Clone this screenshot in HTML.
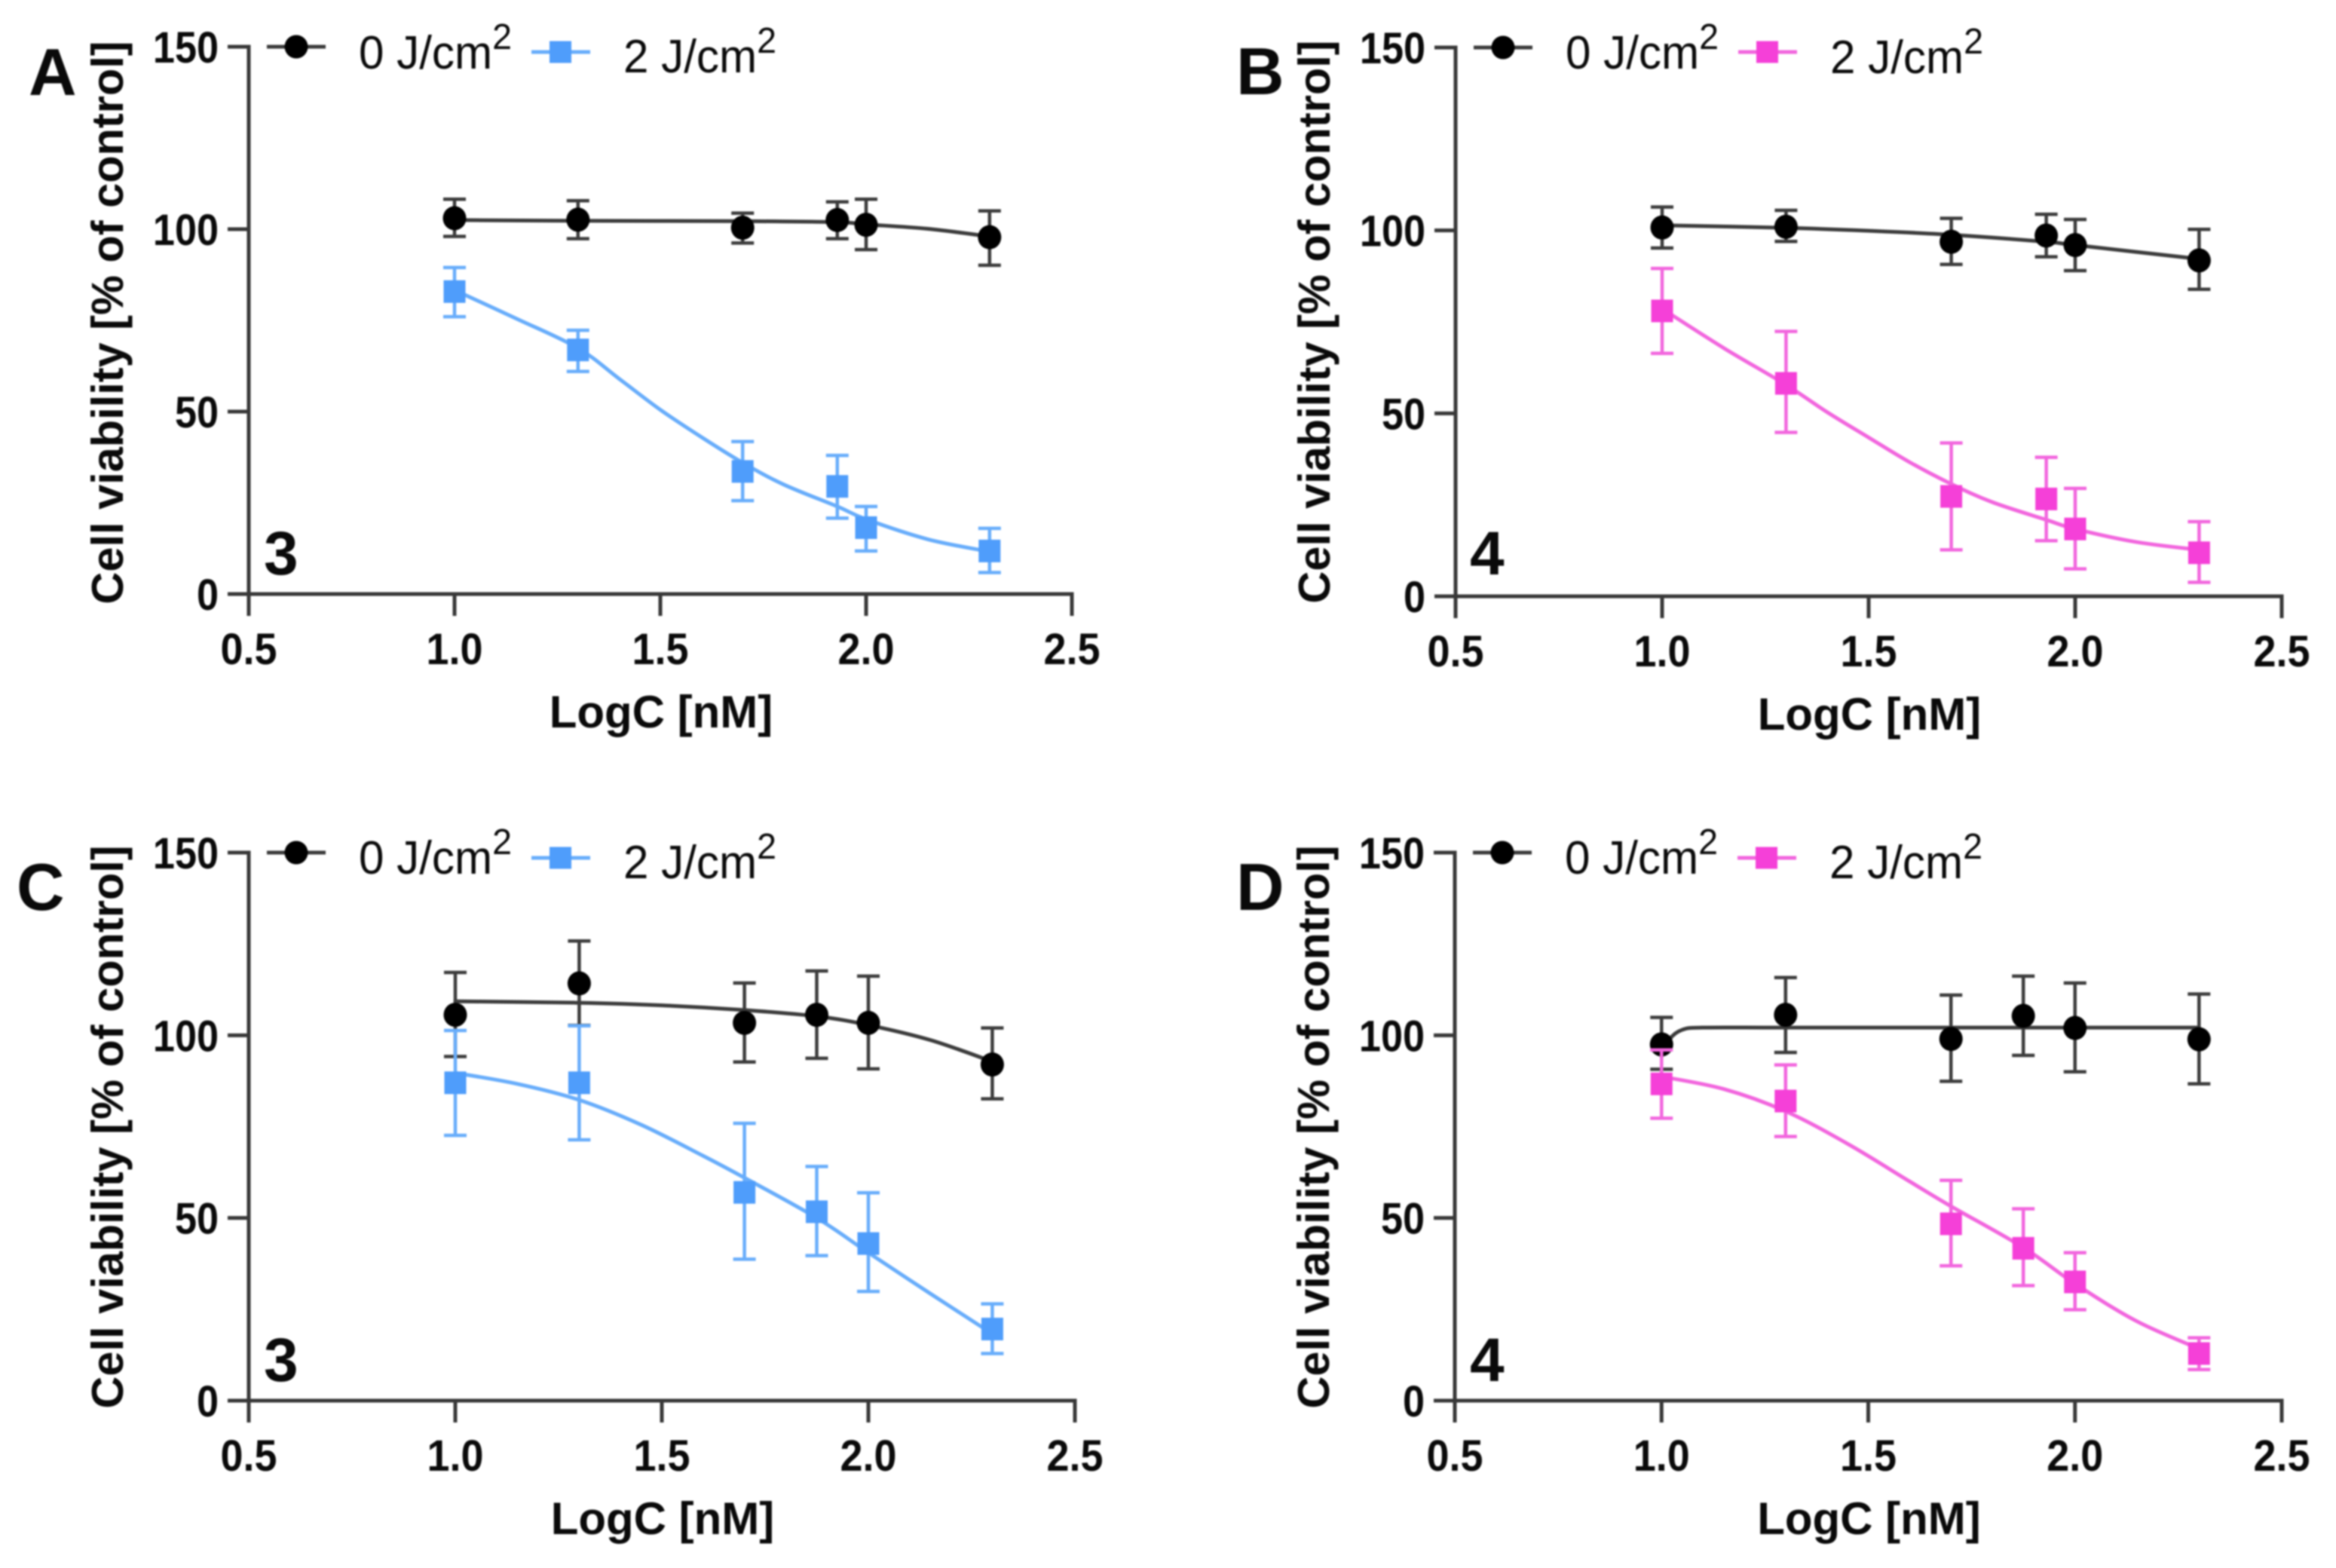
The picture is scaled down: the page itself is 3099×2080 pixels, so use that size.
<!DOCTYPE html>
<html lang="en">
<head>
<meta charset="utf-8">
<title>Cell viability dose-response panels</title>
<style>
html,body{margin:0;padding:0;background:#fff;width:3099px;height:2080px;overflow:hidden}
svg{display:block;filter:blur(1px)}
text{font-family:"Liberation Sans",Arial,sans-serif;fill:#0a0a0a}
</style>
</head>
<body>
<svg id="figure" xmlns="http://www.w3.org/2000/svg" width="3099" height="2080" viewBox="0 0 3099 2080">
<rect width="3099" height="2080" fill="#fff"></rect>
</svg>
<script>
// Axis ticks
const xTickValues = [0.5, 1.0, 1.5, 2.0, 2.5];
const xTickLabels = ['0.5', '1.0', '1.5', '2.0', '2.5'];
const yTickValues = [0, 50, 100, 150];
const yTickLabels = ['0', '50', '100', '150'];

// Panel A (compound 3)
const concA = [1.0, 1.3, 1.7, 1.93, 2.0, 2.3];
const darkA = [103, 102.6, 100.4, 102.5, 101.2, 97.8];
const darkTopA = [108.2, 107.8, 104.4, 107.5, 108.2, 105];
const darkLowA = [98, 97.4, 96.2, 97.4, 94.4, 90.1];
const lightA = [82.9, 66.9, 33.6, 29.5, 18.2, 11.8];
const lightTopA = [89.5, 72.3, 41.8, 38, 24, 18];
const lightLowA = [76, 61, 25.6, 20.8, 11.8, 5.9];
const darkFitXA = [1.0, 1.3, 1.7, 1.93, 2.0, 2.15, 2.3];
const darkFitYA = [102.5, 102.3, 102.2, 101.9, 101.3, 100.1, 98];
const lightFitXA = [1.0, 1.15, 1.3, 1.4, 1.5, 1.6, 1.7, 1.8, 1.93, 2.0, 2.15, 2.3];
const lightFitYA = [83.3, 75.5, 67.4, 59, 50.5, 43, 36, 30, 24, 20.5, 15, 11.6];

// Panel B (compound 4)
const concB = [1.0, 1.3, 1.7, 1.93, 2.0, 2.3];
const darkB = [100.8, 101, 96.9, 98.6, 96, 91.8];
const darkTopB = [106.4, 105.5, 103.3, 104.4, 103, 100.3];
const darkLowB = [95.2, 97, 90.7, 92.8, 89, 83.9];
const lightB = [78, 58.2, 27.3, 26.6, 18.4, 11.9];
const lightTopB = [89.6, 72.4, 41.9, 38, 29.5, 20.4];
const lightLowB = [66.4, 44.8, 12.7, 15.2, 7.5, 3.8];
const darkFitXB = [1.0, 1.3, 1.5, 1.7, 1.93, 2.0, 2.3];
const darkFitYB = [101.4, 100.7, 99.9, 98.8, 96.9, 96, 92.2];
const lightFitXB = [1.0, 1.15, 1.3, 1.4, 1.5, 1.6, 1.7, 1.8, 1.93, 2.0, 2.15, 2.3];
const lightFitYB = [78.6, 67.8, 57.8, 50.3, 43.4, 36.6, 30.7, 25.7, 20.9, 18.4, 14.8, 12.7];

// Panel C (compound 3)
const concC = [1.0, 1.3, 1.7, 1.875, 2.0, 2.3];
const darkC = [105.6, 114.2, 103.4, 105.6, 103.4, 92];
const darkTopC = [117.2, 125.8, 114.3, 117.6, 116.2, 102];
const darkLowC = [94.2, 102.7, 92.7, 93.7, 90.8, 82.6];
const lightC = [87, 87, 57, 51.7, 43, 19.6];
const lightTopC = [101.3, 102.6, 75.9, 64.1, 56.9, 26.5];
const lightLowC = [72.6, 71.4, 38.7, 39.7, 29.9, 12.9];
const darkFitXC = [1.0, 1.3, 1.5, 1.7, 1.875, 2.0, 2.15, 2.3];
const darkFitYC = [109.3, 108.9, 108.2, 106.9, 105.2, 102.8, 98.7, 92.8];
const lightFitXC = [1.0, 1.15, 1.3, 1.45, 1.6, 1.7, 1.875, 2.0, 2.15, 2.3];
const lightFitYC = [89.7, 86.7, 82.3, 75.5, 67, 61, 50, 40.5, 29.3, 18.3];

// Panel D (compound 4)
const concD = [1.0, 1.3, 1.7, 1.875, 2.0, 2.3];
const darkD = [97.5, 105.6, 99, 105.3, 102, 98.9];
const darkTopD = [104.9, 115.8, 111, 116.2, 114.3, 111.3];
const darkLowD = [90.7, 95.3, 87.4, 94.5, 90, 86.7];
const lightD = [86.7, 82, 48.4, 41.7, 32.5, 12.9];
const lightTopD = [96, 91.9, 60.3, 52.5, 40.5, 17.2];
const lightLowD = [77.3, 72.3, 36.9, 31.5, 24.9, 8.5];
const darkFitXD = [1.0, 1.02, 1.05, 1.1, 1.3, 1.7, 2.0, 2.3];
const darkFitYD = [94.2, 99, 101.5, 102.1, 102.1, 102.1, 102.1, 102.1];
const lightFitXD = [1.0, 1.15, 1.3, 1.45, 1.6, 1.7, 1.875, 2.0, 2.15, 2.3];
const lightFitYD = [88.7, 85.3, 79.2, 70.3, 60, 53.2, 41.9, 32, 21.7, 14.2];

const BLUE = {marker: '#4f9dfb', line: '#68adfb'};
const PINK = {marker: '#f540d8', line: '#f266de'};
const DARK = {marker: '#000000', line: '#3c3c3c'};
const NS = 'http://www.w3.org/2000/svg';
const svg = document.getElementById('figure');

const panels = [
  {id: 'a', letter: 'A', compound: '3', tone: BLUE,
   left: 330, right: 1422, base: 788, top: 62,
   conc: concA, dark: darkA, darkTop: darkTopA, darkLow: darkLowA,
   light: lightA, lightTop: lightTopA, lightLow: lightLowA,
   darkFitX: darkFitXA, darkFitY: darkFitYA, lightFitX: lightFitXA, lightFitY: lightFitYA,
   letterX: 38, letterY: 126, numX: 350, numY: 762, titleY: 428,
   leg1Y: 62, leg1Base: 91, leg2Y: 69, leg2Base: 96},
  {id: 'b', letter: 'B', compound: '4', tone: PINK,
   left: 1931, right: 3027, base: 791, top: 63,
   conc: concB, dark: darkB, darkTop: darkTopB, darkLow: darkLowB,
   light: lightB, lightTop: lightTopB, lightLow: lightLowB,
   darkFitX: darkFitXB, darkFitY: darkFitYB, lightFitX: lightFitXB, lightFitY: lightFitYB,
   letterX: 1640, letterY: 125, numX: 1950, numY: 762, titleY: 427,
   leg1Y: 63, leg1Base: 91, leg2Y: 69, leg2Base: 97},
  {id: 'c', letter: 'C', compound: '3', tone: BLUE,
   left: 330, right: 1426, base: 1858, top: 1131,
   conc: concC, dark: darkC, darkTop: darkTopC, darkLow: darkLowC,
   light: lightC, lightTop: lightTopC, lightLow: lightLowC,
   darkFitX: darkFitXC, darkFitY: darkFitYC, lightFitX: lightFitXC, lightFitY: lightFitYC,
   letterX: 22, letterY: 1207, numX: 350, numY: 1832, titleY: 1495,
   leg1Y: 1131, leg1Base: 1159, leg2Y: 1138, leg2Base: 1165},
  {id: 'd', letter: 'D', compound: '4', tone: PINK,
   left: 1930, right: 3027, base: 1858, top: 1131,
   conc: concD, dark: darkD, darkTop: darkTopD, darkLow: darkLowD,
   light: lightD, lightTop: lightTopD, lightLow: lightLowD,
   darkFitX: darkFitXD, darkFitY: darkFitYD, lightFitX: lightFitXD, lightFitY: lightFitYD,
   letterX: 1640, letterY: 1207, numX: 1950, numY: 1832, titleY: 1495,
   leg1Y: 1131, leg1Base: 1159, leg2Y: 1138, leg2Base: 1165}
];

function make(tag, parent, props) {
  const el = document.createElementNS(NS, tag);
  for (const k in props) el.setAttribute(k, props[k]);
  parent.appendChild(el);
  return el;
}

function smoothPath(px, py) {
  let d = 'M' + px[0] + ' ' + py[0];
  for (let i = 0; i < px.length - 1; i++) {
    const x0 = px[Math.max(i - 1, 0)], y0 = py[Math.max(i - 1, 0)];
    const x1 = px[i], y1 = py[i], x2 = px[i + 1], y2 = py[i + 1];
    const x3 = px[Math.min(i + 2, px.length - 1)], y3 = py[Math.min(i + 2, py.length - 1)];
    d += ' C' + (x1 + (x2 - x0) / 6) + ' ' + (y1 + (y2 - y0) / 6) + ' ' +
         (x2 - (x3 - x1) / 6) + ' ' + (y2 - (y3 - y1) / 6) + ' ' + x2 + ' ' + y2;
  }
  return d;
}

function drawSeries(g, p, xOf, yOf, conc, vals, tops, lows, fitX, fitY, tone, shape, key) {
  const bars = make('g', g, {stroke: tone.line, 'stroke-width': 4.5, fill: 'none'});
  
  
  conc.forEach(function (c, i) {
    const x = xOf(c), yt = yOf(tops[i]), yl = yOf(lows[i]);
    const bar = make('path', bars, {d: 'M' + x + ' ' + yt + 'V' + yl + 'M' + (x - 15) + ' ' + yt + 'H' + (x + 15) + 'M' + (x - 15) + ' ' + yl + 'H' + (x + 15)});
    
    
  });
  const curve = make('path', g, {d: smoothPath(fitX.map(xOf), fitY.map(yOf)), fill: 'none', stroke: tone.line, 'stroke-width': 5, 'stroke-linecap': 'round'});
  
  
  conc.forEach(function (c, i) {
    const x = xOf(c), y = yOf(vals[i]);
    let m;
    if (shape === 'circle') {
      m = make('ellipse', g, {cx: x, cy: y, rx: 15.5, ry: 16, fill: tone.marker});
    } else {
      m = make('rect', g, {x: x - 14.5, y: y - 15, width: 29, height: 30, fill: tone.marker});
    }
    
    
  });
}

function legendEntry(g, x0, lineY, textX, baseY, tone, shape, label, key) {
  const e = make('g', g, {});
  
  
  const ln = make('line', e, {x1: x0, x2: x0 + 78, y1: lineY, y2: lineY, stroke: tone.line, 'stroke-width': 5});
  
  
  let m;
  if (shape === 'circle') {
    m = make('circle', e, {cx: x0 + 39, cy: lineY, r: 15.5, fill: tone.marker});
  } else {
    m = make('rect', e, {x: x0 + 24, y: lineY - 14.5, width: 29, height: 29, fill: tone.marker});
  }
  
  
  const t = make('text', e, {transform: 'translate(' + textX + ' ' + baseY + ') scale(0.97 1)', 'font-size': 62});
  
  
  t.textContent = label;
  const s = make('tspan', t, {'font-size': 48, dy: -26});
  s.textContent = '2';
}

panels.forEach(function (p) {
  const xOf = function (v) { return p.left + (v - 0.5) / 2 * (p.right - p.left); };
  const yOf = function (v) { return p.base - v / 150 * (p.base - p.top); };

  const g = make('g', svg, {});
  
  

  const axes = make('path', g, {
    d: 'M' + xOf(xTickValues[0]) + ' ' + yOf(yTickValues[yTickValues.length - 1]) + 'V' + yOf(0) + 'M' + p.left + ' ' + p.base + 'H' + p.right,
    fill: 'none', stroke: '#383838', 'stroke-width': 5, 'stroke-linecap': 'square'
  });
  
  

  xTickValues.forEach(function (v, i) {
    const x = xOf(v);
    const tick = make('line', g, {x1: x, x2: x, y1: p.base, y2: p.base + 29, stroke: '#383838', 'stroke-width': 5});
    
    
    const lab = make('text', g, {transform: 'translate(' + x + ' ' + (p.base + 93) + ') scale(0.93 1)', 'font-size': 58, 'font-weight': 700, 'text-anchor': 'middle'});
    
    
    lab.textContent = xTickLabels[i];
  });

  yTickValues.forEach(function (v, i) {
    const y = yOf(v);
    const tick = make('line', g, {x1: p.left - 28, x2: p.left, y1: y, y2: y, stroke: '#383838', 'stroke-width': 5});
    
    
    const lab = make('text', g, {transform: 'translate(' + (p.left - 40) + ' ' + (y + 21) + ') scale(0.9 1)', 'font-size': 58, 'font-weight': 700, 'text-anchor': 'end'});
    
    
    lab.textContent = yTickLabels[i];
  });

  const yt = make('text', g, {transform: 'translate(' + (p.left - 167) + ' ' + p.titleY + ') rotate(-90)', 'font-size': 59.5, 'font-weight': 700, 'text-anchor': 'middle'});
  
  
  yt.textContent = 'Cell viability [% of control]';

  const xt = make('text', g, {x: (p.left + p.right) / 2 + 1, y: p.base + 177, 'font-size': 60, 'font-weight': 700, 'text-anchor': 'middle'});
  
  
  xt.textContent = 'LogC [nM]';

  const letter = make('text', g, {x: p.letterX, y: p.letterY, 'font-size': 88, 'font-weight': 700});
  
  
  letter.textContent = p.letter;

  const num = make('text', g, {x: p.numX, y: p.numY, 'font-size': 82, 'font-weight': 700});
  
  
  num.textContent = p.compound;

  legendEntry(g, p.left + 24, p.leg1Y, p.left + 146, p.leg1Base, DARK, 'circle', '0 J/cm', 'dark-control');
  legendEntry(g, p.left + 375, p.leg2Y, p.left + 497, p.leg2Base, p.tone, 'square', '2 J/cm', 'irradiated');

  drawSeries(g, p, xOf, yOf, p.conc, p.dark, p.darkTop, p.darkLow, p.darkFitX, p.darkFitY, DARK, 'circle', 'dark-control');
  drawSeries(g, p, xOf, yOf, p.conc, p.light, p.lightTop, p.lightLow, p.lightFitX, p.lightFitY, p.tone, 'square', 'irradiated');
});
</script>
</body>
</html>
